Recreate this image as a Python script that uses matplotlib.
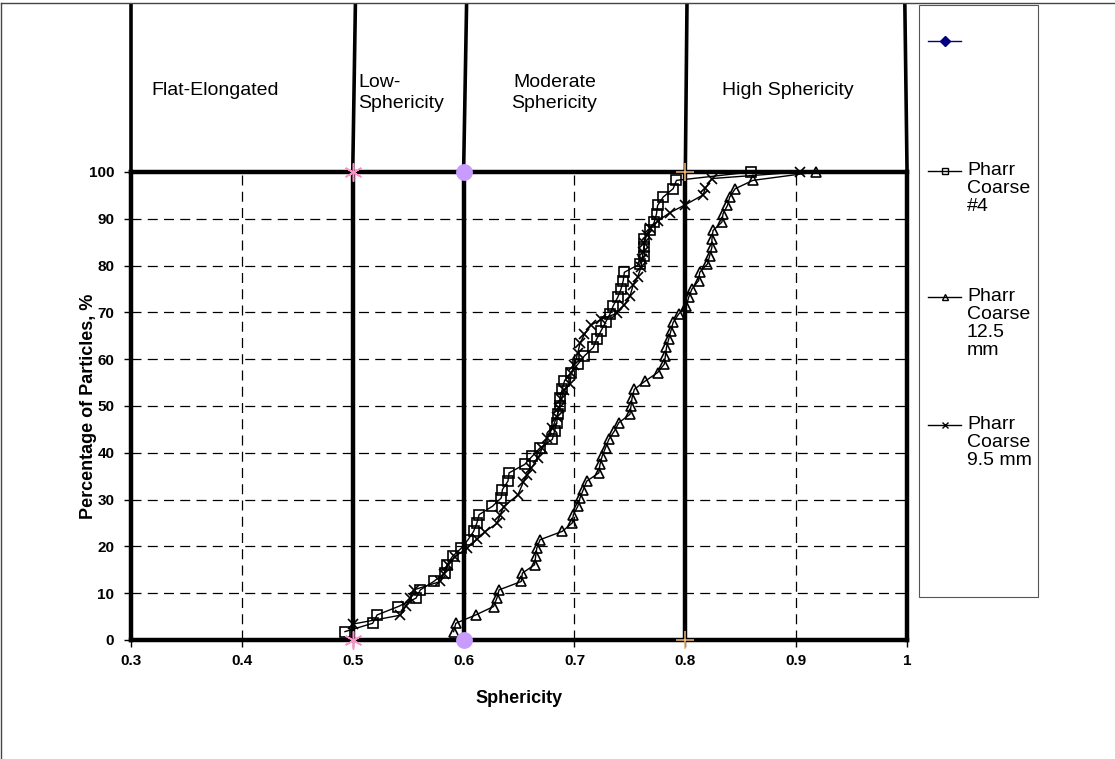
import matplotlib.pyplot as plt
from matplotlib.lines import Line2D
from matplotlib.patches import Rectangle
import numpy as np

plt.rcParams['font.family'] = ['Liberation Sans', 'DejaVu Sans']

# cumulative percentage of particles (each step is one particle)
pct_56 = [1.79, 3.57, 5.36, 7.14, 8.93, 10.71, 12.5, 14.29, 16.07, 17.86,
          19.64, 21.43, 23.21, 25.0, 26.79, 28.57, 30.36, 32.14, 33.93, 35.71,
          37.5, 39.29, 41.07, 42.86, 44.64, 46.43, 48.21, 50.0, 51.79, 53.57,
          55.36, 57.14, 58.93, 60.71, 62.5, 64.29, 66.07, 67.86, 69.64, 71.43,
          73.21, 75.0, 76.79, 78.57, 80.36, 82.14, 83.93, 85.71, 87.5, 89.29,
          91.07, 92.86, 94.64, 96.43, 98.21, 100.0]

coarse4_sph = [0.493, 0.518, 0.522, 0.541, 0.557, 0.561, 0.573, 0.583, 0.585, 0.590,
               0.598, 0.604, 0.609, 0.612, 0.614, 0.626, 0.634, 0.635, 0.640, 0.641,
               0.655, 0.662, 0.669, 0.680, 0.682, 0.684, 0.685, 0.687, 0.687, 0.689,
               0.691, 0.697, 0.703, 0.709, 0.717, 0.720, 0.724, 0.728, 0.732, 0.735,
               0.739, 0.742, 0.744, 0.745, 0.759, 0.763, 0.763, 0.763, 0.768, 0.772,
               0.774, 0.775, 0.780, 0.789, 0.792, 0.859]

coarse125_sph = [0.591, 0.593, 0.611, 0.627, 0.630, 0.632, 0.652, 0.653, 0.664, 0.665,
                 0.666, 0.669, 0.689, 0.698, 0.699, 0.703, 0.705, 0.708, 0.711, 0.722,
                 0.723, 0.725, 0.728, 0.731, 0.736, 0.740, 0.750, 0.751, 0.752, 0.754,
                 0.764, 0.775, 0.781, 0.782, 0.783, 0.785, 0.787, 0.789, 0.794, 0.801,
                 0.803, 0.806, 0.812, 0.813, 0.820, 0.822, 0.824, 0.824, 0.825, 0.833,
                 0.834, 0.838, 0.840, 0.845, 0.861, 0.918]

coarse95_pct = [3.4, 5.3, 7.3, 8.9, 10.7, 12.5, 14.2, 16.0, 17.8, 19.6,
                21.5, 23.1, 24.9, 26.7, 28.5, 31.0, 33.8, 35.2, 36.7, 38.8,
                41.0, 43.1, 45.2, 47.7, 49.5, 51.5, 53.4, 54.8, 57.0, 58.8,
                61.3, 63.4, 65.3, 67.3, 68.5, 69.8, 71.6, 73.4, 75.9, 77.6,
                79.6, 81.5, 83.0, 84.8, 86.5, 88.0, 89.5, 91.3, 93.0, 95.1,
                96.5, 98.6, 100.0]
coarse95_sph = [0.500, 0.543, 0.548, 0.552, 0.555, 0.579, 0.582, 0.586, 0.592, 0.603,
                0.612, 0.619, 0.630, 0.633, 0.636, 0.649, 0.654, 0.657, 0.661, 0.667,
                0.671, 0.675, 0.680, 0.684, 0.686, 0.688, 0.691, 0.696, 0.697, 0.700,
                0.703, 0.705, 0.709, 0.715, 0.724, 0.738, 0.745, 0.750, 0.753, 0.757,
                0.760, 0.761, 0.762, 0.763, 0.765, 0.768, 0.775, 0.786, 0.800, 0.816,
                0.818, 0.824, 0.903]

# class boundaries
bounds = [0.5, 0.6, 0.8]
bound_colors = ['#ff8fc8', '#c89bff', '#f4b878']
bound_markers = [(6, 2, 0), 'o', '+']
classes = ['Flat-Elongated', 'Low-\nSphericity', 'Moderate\nSphericity', 'High Sphericity']

fig = plt.figure(figsize=(11.15, 7.59), dpi=100)
ax = fig.add_axes([0.1175, 0.1568, 0.696, 0.6166])
ax.set_xlim(0.3, 1.0)
ax.set_ylim(0, 100)

ax.set_xticks(np.arange(0.3, 1.01, 0.1))
ax.set_xticklabels(['0.3', '0.4', '0.5', '0.6', '0.7', '0.8', '0.9', '1'])
ax.set_yticks(range(0, 101, 10))
ax.tick_params(labelsize=11, length=5, width=1)
ax.tick_params(axis='y', pad=7)
ax.tick_params(axis='x', pad=5)
for lab in ax.get_xticklabels() + ax.get_yticklabels():
    lab.set_fontweight('bold')

ax.grid(True, color='black', linestyle=(0, (8, 5)), linewidth=0.9)
for sp in ax.spines.values():
    sp.set_linewidth(3.2)

ax.set_xlabel('Sphericity', fontsize=13, fontweight='bold', labelpad=16)
ax.set_ylabel('Percentage of Particles, %', fontsize=13, fontweight='bold')
ax.yaxis.set_label_coords(-0.044, 0.5)

# boundary lines inside the plot
for b, c, m in zip(bounds, bound_colors, bound_markers):
    ax.plot([b, b], [0, 100], color='black', lw=3.2, zorder=2)
    ms = 11 if m == 'o' else 13
    ax.plot([b, b], [0, 100], linestyle='none', marker=m, ms=ms,
            color=c, mec=c, mew=1.1, zorder=4, clip_on=False)

# boundary lines extended above the plot into the label band
tops = [(0.3, 0.0), (0.5, 0.0024), (0.6, 0.0027), (0.8, 0.0015), (1.0, -0.002)]
for b, dx in tops:
    ax.plot([b, b + dx], [100, 136], color='black', lw=2.6, clip_on=False,
            solid_capstyle='butt', zorder=2)

ax.text(0.376, 117.5, classes[0], ha='center', va='center', fontsize=14)
ax.text(0.505, 116.9, classes[1], ha='left', va='center', fontsize=14, linespacing=1.25)
ax.text(0.682, 116.9, classes[2], ha='center', va='center', fontsize=14, linespacing=1.25)
ax.text(0.892, 117.5, classes[3], ha='center', va='center', fontsize=14)

# data series
ax.plot(coarse4_sph, pct_56, color='black', lw=1, marker='s', ms=7,
        mfc='none', mec='black', mew=1.2, zorder=3, clip_on=False)
ax.plot(coarse125_sph, pct_56, color='black', lw=1, marker='^', ms=7,
        mfc='none', mec='black', mew=1.2, zorder=3, clip_on=False)
ax.plot(coarse95_sph, coarse95_pct, color='black', lw=1, marker='x', ms=7,
        mec='black', mew=1.2, zorder=3, clip_on=False)

# legend panel
fig.patches.append(Rectangle((919 / 1115, 1 - 597 / 759), 119 / 1115, 592 / 759,
                             transform=fig.transFigure, fill=False,
                             edgecolor='#555555', lw=0.8))
leg_items = [
    (41, 'D', 'navy', 'navy', ''),
    (171, 's', 'black', 'none', 'Pharr\nCoarse\n#4'),
    (297, '^', 'black', 'none', 'Pharr\nCoarse\n12.5\nmm'),
    (425, 'x', 'black', 'none', 'Pharr\nCoarse\n9.5 mm'),
]
for ypx, m, col, fc, txt in leg_items:
    yf = 1 - ypx / 759
    fig.add_artist(Line2D([928 / 1115, 961 / 1115], [yf, yf], color=col, lw=1,
                          transform=fig.transFigure))
    fig.add_artist(Line2D([944.5 / 1115], [yf], marker=m, ms=5, color=col,
                          mfc=fc if m != 'D' else col, mec=col, mew=1,
                          transform=fig.transFigure))
    if txt:
        fig.text(967 / 1115, yf + 9 / 759, txt, ha='left', va='top',
                 fontsize=14, linespacing=1.08)

# outer frame (top and left edges)
fig.add_artist(Line2D([0.001, 1.0], [0.996, 0.996], color='#444444', lw=1,
                      transform=fig.transFigure))
fig.add_artist(Line2D([0.001, 0.001], [0.0, 0.996], color='#444444', lw=1,
                      transform=fig.transFigure))

fig.savefig('out.png', dpi=100)
